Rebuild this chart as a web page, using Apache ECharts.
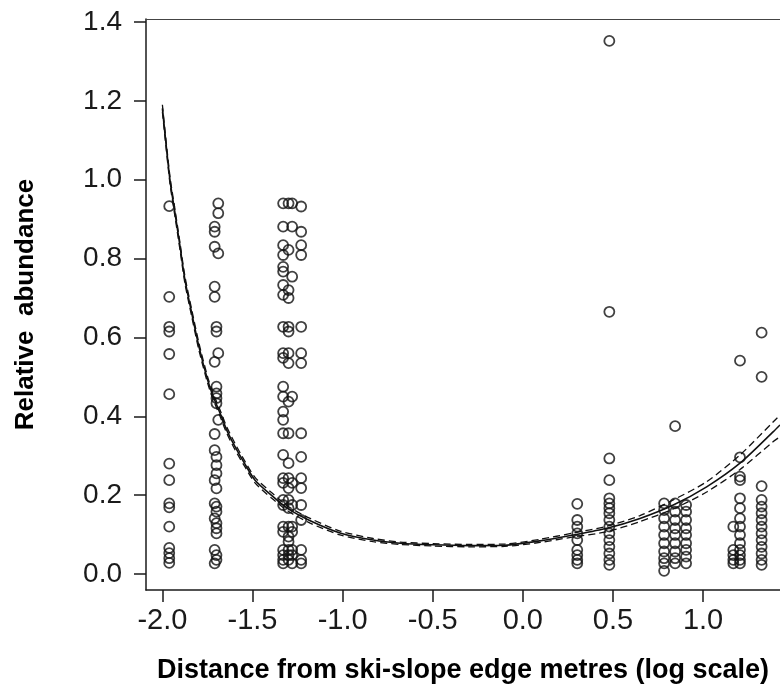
<!DOCTYPE html>
<html>
<head>
<meta charset="utf-8">
<script src="https://cdn.jsdelivr.net/npm/echarts@6/dist/echarts.min.js"></script>
<style>
html,body{margin:0;padding:0;background:#fff;}
#chart{width:780px;height:693px;}
</style>
</head>
<body>
<div id="chart"></div>
<script>
// ---- Data ----
const xTicks = [-2.0, -1.5, -1.0, -0.5, 0.0, 0.5, 1.0];
const yTicks = [0.0, 0.2, 0.4, 0.6, 0.8, 1.0, 1.2, 1.4];

const siteA = [[-1.962,0.933],[-1.962,0.703],[-1.962,0.627],[-1.962,0.615],[-1.962,0.558],[-1.962,0.456],
  [-1.962,0.280],[-1.962,0.238],[-1.962,0.179],[-1.962,0.169],[-1.962,0.120],[-1.962,0.066],[-1.962,0.053],
  [-1.962,0.040],[-1.962,0.028]];
const siteB = [[-1.69,0.940],[-1.69,0.915],[-1.71,0.881],[-1.71,0.868],[-1.71,0.830],[-1.69,0.813],[-1.71,0.729],
  [-1.71,0.703],[-1.70,0.627],[-1.70,0.615],[-1.69,0.560],[-1.71,0.538],[-1.70,0.475],[-1.70,0.458],[-1.70,0.446],
  [-1.70,0.433],[-1.69,0.391],[-1.71,0.355],[-1.71,0.314],[-1.70,0.297],[-1.70,0.276],[-1.70,0.255],[-1.71,0.238],
  [-1.70,0.217],[-1.71,0.179],[-1.70,0.171],[-1.70,0.158],[-1.71,0.141],[-1.70,0.129],[-1.70,0.116],[-1.70,0.103],
  [-1.71,0.061],[-1.70,0.048],[-1.70,0.036],[-1.71,0.027]];
const siteC = [[-1.33,0.940],[-1.30,0.940],[-1.28,0.940],[-1.23,0.932],[-1.33,0.881],[-1.28,0.881],[-1.23,0.868],
  [-1.33,0.834],[-1.30,0.822],[-1.33,0.809],[-1.23,0.834],[-1.23,0.809],[-1.33,0.779],[-1.33,0.767],[-1.28,0.754],
  [-1.33,0.733],[-1.30,0.720],[-1.33,0.708],[-1.30,0.700],[-1.33,0.627],[-1.30,0.627],[-1.23,0.627],[-1.30,0.615],
  [-1.33,0.560],[-1.30,0.560],[-1.23,0.560],[-1.33,0.548],[-1.30,0.535],[-1.23,0.535],[-1.33,0.475],[-1.33,0.450],
  [-1.28,0.450],[-1.30,0.437],[-1.33,0.412],[-1.33,0.391],[-1.33,0.357],[-1.30,0.357],[-1.23,0.357],[-1.33,0.302],
  [-1.30,0.281],[-1.23,0.297],[-1.33,0.243],[-1.30,0.243],[-1.23,0.243],[-1.33,0.231],[-1.28,0.231],[-1.30,0.218],
  [-1.23,0.218],[-1.33,0.188],[-1.30,0.188],[-1.33,0.175],[-1.28,0.175],[-1.23,0.175],[-1.30,0.167],[-1.23,0.137],
  [-1.33,0.120],[-1.30,0.120],[-1.28,0.120],[-1.33,0.107],[-1.28,0.107],[-1.30,0.095],[-1.30,0.082],
  [-1.33,0.061],[-1.30,0.061],[-1.28,0.061],[-1.23,0.061],[-1.33,0.048],[-1.30,0.048],[-1.28,0.048],
  [-1.33,0.036],[-1.30,0.036],[-1.23,0.036],[-1.33,0.027],[-1.28,0.027],[-1.23,0.027]];
const siteD = [[0.302,0.178],[0.302,0.137],[0.302,0.120],[0.302,0.103],[0.302,0.086],[0.302,0.061],[0.302,0.048],
  [0.302,0.036],[0.302,0.027],
  [0.48,1.352],[0.48,0.665],[0.48,0.293],[0.48,0.238],[0.48,0.192],[0.48,0.179],[0.48,0.167],[0.48,0.154],
  [0.48,0.137],[0.48,0.120],[0.48,0.103],[0.48,0.086],[0.48,0.069],[0.48,0.052],[0.48,0.036],[0.48,0.023]];
const siteE = [[0.784,0.179],[0.784,0.162],[0.784,0.141],[0.784,0.120],[0.784,0.099],[0.784,0.078],[0.784,0.057],
  [0.784,0.040],[0.784,0.027],[0.784,0.008],
  [0.845,0.375],[0.845,0.179],[0.845,0.158],[0.845,0.137],[0.845,0.116],[0.845,0.099],[0.845,0.078],[0.845,0.057],
  [0.845,0.040],[0.845,0.027],
  [0.906,0.175],[0.906,0.158],[0.906,0.137],[0.906,0.116],[0.906,0.099],[0.906,0.078],[0.906,0.061],[0.906,0.044],
  [0.906,0.027]];
const siteF = [[1.205,0.541],[1.205,0.296],[1.205,0.247],[1.205,0.238],[1.205,0.192],[1.205,0.167],[1.205,0.141],
  [1.205,0.120],[1.205,0.099],[1.205,0.078],[1.205,0.061],[1.205,0.048],[1.205,0.036],[1.205,0.027],
  [1.168,0.120],[1.168,0.061],[1.168,0.048],[1.168,0.036],[1.168,0.027],
  [1.325,0.612],[1.325,0.500],[1.325,0.223],[1.325,0.188],[1.325,0.171],[1.325,0.154],[1.325,0.137],[1.325,0.120],
  [1.325,0.103],[1.325,0.086],[1.325,0.069],[1.325,0.052],[1.325,0.036],[1.325,0.023]];

const curveX     = [-2.0, -1.958, -1.930, -1.902, -1.875, -1.837, -1.797, -1.749, -1.718, -1.680, -1.643, -1.597, -1.545, -1.486, -1.393, -1.301, -1.180, -1.014, -0.830, -0.681, -0.5, -0.3, -0.1, 0.095, 0.28, 0.466, 0.650, 0.835, 1.020, 1.205, 1.390, 1.427];
const curveFit   = [1.181, 0.999, 0.915, 0.830, 0.746, 0.661, 0.576, 0.492, 0.450, 0.408, 0.365, 0.323, 0.281, 0.238, 0.199, 0.165, 0.135, 0.104, 0.086, 0.078, 0.074, 0.072, 0.073, 0.084, 0.099, 0.116, 0.141, 0.175, 0.221, 0.281, 0.361, 0.378];
const curveUpper = [1.190, 1.008, 0.924, 0.839, 0.755, 0.670, 0.585, 0.500, 0.458, 0.416, 0.373, 0.331, 0.288, 0.245, 0.206, 0.171, 0.141, 0.109, 0.090, 0.081, 0.077, 0.075, 0.076, 0.088, 0.104, 0.121, 0.148, 0.188, 0.234, 0.302, 0.386, 0.403];
const curveLower = [1.172, 0.990, 0.906, 0.821, 0.737, 0.652, 0.567, 0.484, 0.442, 0.400, 0.357, 0.315, 0.274, 0.231, 0.192, 0.159, 0.129, 0.099, 0.082, 0.075, 0.071, 0.069, 0.070, 0.080, 0.094, 0.107, 0.133, 0.165, 0.208, 0.265, 0.336, 0.348];

const xTitle = 'Distance from ski-slope edge metres (log scale)';
const yTitle = 'Relative  abundance';

// ---- Chart ----
const ink = '#1a1a1a';
const font = "'Liberation Sans', Arial, sans-serif";
const zip = (xs, ys) => xs.map((x, i) => [x, ys[i]]);

const chart = echarts.init(document.getElementById('chart'), null, {renderer: 'canvas'});
chart.setOption({
  animation: false,
  backgroundColor: '#ffffff',
  grid: {left: 146, right: 0, top: 19, bottom: 103, containLabel: false},
  xAxis: [{
    type: 'value', position: 'bottom', min: -2.091, max: 1.427,
    axisLine: {show: true, onZero: false, lineStyle: {color: ink, width: 1.5}},
    axisTick: {show: true, inside: false, length: 12, customValues: xTicks, lineStyle: {color: ink, width: 1.5}},
    axisLabel: {customValues: xTicks, formatter: v => v.toFixed(1), fontSize: 29, margin: 16,
      color: ink, fontFamily: font},
    splitLine: {show: false},
    name: xTitle, nameLocation: 'middle', nameGap: 67,
    nameTextStyle: {fontSize: 27, fontWeight: 'bold', color: '#000', fontFamily: font}
  }, {
    type: 'value', position: 'top', min: -2.091, max: 1.427,
    axisLine: {show: true, onZero: false, lineStyle: {color: '#444', width: 1.2}},
    axisTick: {show: false}, axisLabel: {show: false}, splitLine: {show: false}
  }],
  yAxis: {
    type: 'value', min: -0.0406, max: 1.4076,
    axisLine: {show: true, onZero: false, lineStyle: {color: ink, width: 1.5}},
    axisTick: {show: true, inside: false, length: 12, customValues: yTicks, lineStyle: {color: ink, width: 1.5}},
    axisLabel: {customValues: yTicks, formatter: v => v.toFixed(1), fontSize: 28, margin: 24,
      color: ink, fontFamily: font},
    splitLine: {show: false},
    name: yTitle, nameLocation: 'middle', nameGap: 107, nameRotate: 90,
    nameTextStyle: {fontSize: 26, fontWeight: 'bold', color: '#000', fontFamily: font}
  },
  series: [
    {
      type: 'scatter', silent: true,
      data: [].concat(siteA, siteB, siteC, siteD, siteE, siteF),
      symbol: 'circle', symbolSize: 10,
      itemStyle: {color: 'rgba(0,0,0,0)', borderColor: '#111', borderWidth: 1.8}
    },
    {
      type: 'line', silent: true, data: zip(curveX, curveFit), showSymbol: false, symbol: 'none',
      smooth: 0.25,
      lineStyle: {color: '#111', width: 1.6}
    },
    {
      type: 'line', silent: true, data: zip(curveX, curveUpper), showSymbol: false, symbol: 'none',
      smooth: 0.25,
      lineStyle: {color: '#111', width: 1.3, type: [7, 4]}
    },
    {
      type: 'line', silent: true, data: zip(curveX, curveLower), showSymbol: false, symbol: 'none',
      smooth: 0.25,
      lineStyle: {color: '#111', width: 1.3, type: [7, 4]}
    }
  ]
});
</script>
</body>
</html>
